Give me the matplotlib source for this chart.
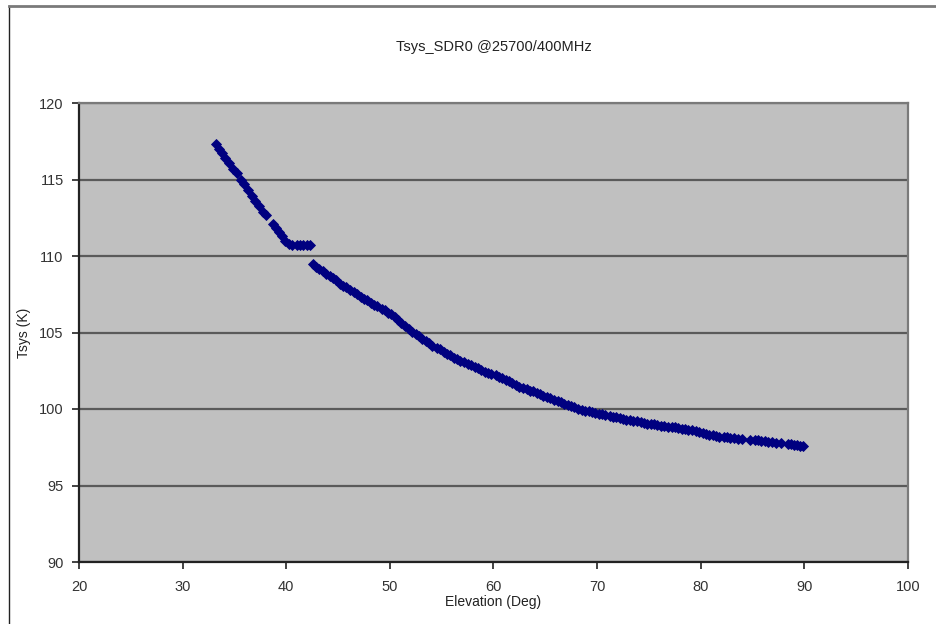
import matplotlib
matplotlib.use("Agg")
import matplotlib.pyplot as plt
from matplotlib.lines import Line2D

plt.rcParams['font.family'] = ['Liberation Sans', 'DejaVu Sans']

# Elevation (deg) and system temperature (K)
elevation = [
    33.2, 33.5, 33.8, 34.1, 34.5, 34.9, 35.2, 35.6, 35.9, 36.3, 36.7, 37.0,
    37.4, 37.8, 38.0,
    38.7, 39.0, 39.3, 39.6, 39.9, 40.3, 40.6, 41.0, 41.3, 41.6, 42.0, 42.3,
    42.6, 42.9, 43.2, 43.5, 43.8, 44.2, 44.5, 44.8, 45.2, 45.5, 45.8, 46.2,
    46.5, 46.8, 47.2, 47.5, 47.8, 48.2, 48.5, 48.8, 49.2, 49.5, 49.8, 50.1,
    50.5, 50.8, 51.1, 51.5, 51.8, 52.1, 52.5, 52.8, 53.1, 53.5, 53.8, 54.1,
    54.5, 54.8, 55.2, 55.5, 55.8, 56.2, 56.5, 56.8, 57.2, 57.5, 57.8, 58.2,
    58.5, 58.8, 59.2, 59.5, 59.8, 60.2, 60.5, 60.8, 61.2, 61.5, 61.8, 62.2,
    62.5, 62.8, 63.2, 63.5, 63.8, 64.2, 64.5, 64.8, 65.2, 65.5, 65.8, 66.2,
    66.5, 66.8, 67.2, 67.5, 67.8, 68.2, 68.5, 68.8, 69.2, 69.5, 69.8, 70.2,
    70.5, 70.8, 71.2, 71.5, 71.8, 72.2, 72.5, 72.8, 73.2, 73.5, 73.8, 74.2,
    74.5, 74.8, 75.2, 75.5, 75.8, 76.2, 76.5, 76.8, 77.2, 77.5, 77.8, 78.2,
    78.5, 78.8, 79.2, 79.5, 79.8, 80.2, 80.5, 80.8, 81.2, 81.5, 81.8, 82.2,
    82.5, 82.8, 83.2, 83.6, 84.0,
    84.8, 85.2, 85.5, 85.8, 86.2, 86.5, 86.9, 87.3, 87.7,
    88.4, 88.7, 89.0, 89.3, 89.6, 89.9,
]
tsys = [
    117.3, 117.0, 116.7, 116.4, 116.1, 115.7, 115.4, 115.0, 114.7, 114.3,
    113.9, 113.6, 113.3, 112.9, 112.7,
    112.1, 111.8, 111.6, 111.3, 111.0, 110.8, 110.75, 110.75, 110.75, 110.75,
    110.75, 110.75,
    109.5, 109.3, 109.15, 109.0, 108.85, 108.7, 108.55, 108.4, 108.2, 108.05,
    107.95, 107.8, 107.65, 107.5, 107.35, 107.2, 107.1, 106.95, 106.8, 106.7,
    106.55, 106.45, 106.3, 106.2, 106.0, 105.8, 105.6, 105.4, 105.2, 105.05,
    104.9, 104.75, 104.6, 104.45, 104.3, 104.15, 104.0, 103.9, 103.75, 103.6,
    103.5, 103.35, 103.25, 103.15, 103.05, 102.95, 102.85, 102.75, 102.65,
    102.55, 102.45, 102.35, 102.3, 102.2, 102.1, 102.0, 101.9, 101.8, 101.7,
    101.55, 101.45, 101.4, 101.3, 101.2, 101.15, 101.05, 100.95, 100.85,
    100.8, 100.7, 100.6, 100.55, 100.45, 100.35, 100.25, 100.2, 100.1, 100.0,
    99.95, 99.9, 99.85, 99.8, 99.75, 99.7, 99.65, 99.6, 99.55, 99.5, 99.45,
    99.4, 99.35, 99.3, 99.25, 99.2, 99.2, 99.15, 99.1, 99.05, 99.0, 99.0,
    98.95, 98.9, 98.9, 98.85, 98.8, 98.8, 98.75, 98.7, 98.7, 98.65, 98.6,
    98.55, 98.5, 98.4, 98.35, 98.3, 98.3, 98.25, 98.2, 98.2, 98.15, 98.1,
    98.1, 98.05, 98.05,
    98.0, 97.95, 97.95, 97.9, 97.9, 97.85, 97.85, 97.8, 97.8,
    97.7, 97.7, 97.65, 97.65, 97.6, 97.6,
]

x_ticks = [20, 30, 40, 50, 60, 70, 80, 90, 100]
y_ticks = [90, 95, 100, 105, 110, 115, 120]

fig = plt.figure(figsize=(9.37, 6.24), dpi=100)
W, H = 937, 624

# chart frame
fig.add_artist(Line2D([9 / W, 9 / W], [0, 1 - 6 / H], color='#222222',
                      lw=1.0, transform=fig.transFigure))
fig.add_artist(Line2D([9 / W, 1], [1 - 6 / H, 1 - 6 / H], color='#7a7a7a',
                      lw=2.0, transform=fig.transFigure))

ax = fig.add_axes([79 / W, (H - 562) / H, (908 - 79) / W, (562 - 103) / H])
ax.set_facecolor('#c0c0c0')

ax.plot(elevation, tsys, linestyle='none', marker='D', markersize=4.8,
        color='#000080', markeredgewidth=0.6)

ax.set_xlim(20, 100)
ax.set_ylim(90, 120)
ax.set_xticks(x_ticks)
ax.set_yticks(y_ticks)
ax.tick_params(axis='both', direction='out', length=5, width=1.2,
               colors='#222222', labelsize=10.5, labelcolor='#333333')
ax.tick_params(axis='x', pad=8)
ax.tick_params(axis='y', pad=6)

ax.yaxis.grid(True, color='#5a5a5a', linewidth=1.6)
ax.set_axisbelow(True)

for side in ('top', 'right'):
    ax.spines[side].set_color('#7a7a7a')
    ax.spines[side].set_linewidth(1.6)
for side in ('left', 'bottom'):
    ax.spines[side].set_color('#222222')
    ax.spines[side].set_linewidth(1.6)

ax.set_xlabel('Elevation (Deg)', fontsize=10, color='#222222', labelpad=1)
ax.set_ylabel('Tsys (K)', fontsize=10, color='#222222', labelpad=6)

fig.text((79 + 908) / 2 / W, 1 - 47 / H, 'Tsys_SDR0 @25700/400MHz',
         ha='center', va='center', fontsize=10.5, color='#222222')

fig.savefig('out.png', dpi=100, facecolor='white')
